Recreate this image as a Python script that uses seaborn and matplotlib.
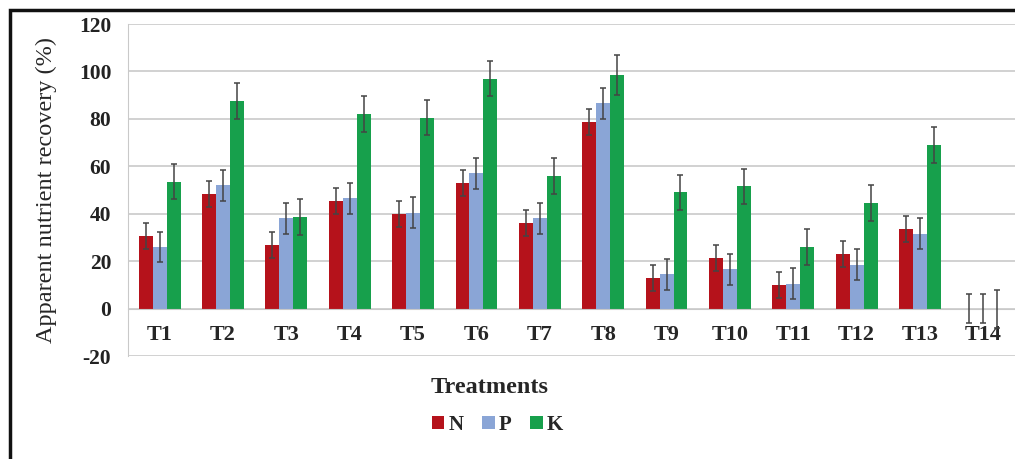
import numpy as np
import pandas as pd
import seaborn as sns
import matplotlib.pyplot as plt
from matplotlib.patches import Rectangle
from matplotlib.ticker import MultipleLocator

# values
treatments = ['T1', 'T2', 'T3', 'T4', 'T5', 'T6', 'T7', 'T8', 'T9', 'T10', 'T11', 'T12', 'T13', 'T14']
n_vals = [30.5, 48.5, 27, 45.5, 40, 53, 36, 78.5, 13, 21.5, 10, 23, 33.5, 0]
p_vals = [26, 52, 38, 46.5, 40.5, 57, 38, 86.5, 14.5, 16.5, 10.5, 18.5, 31.5, 0]
k_vals = [53.5, 87.5, 38.5, 82, 80.5, 97, 56, 98.5, 49, 51.5, 26, 44.5, 69, 0]
n_err = [5.5, 5.5, 5.5, 5.5, 5.5, 5.5, 5.5, 5.5, 5.5, 5.5, 5.5, 5.5, 5.5, 6]
p_err = [6.5, 6.5, 6.5, 6.5, 6.5, 6.5, 6.5, 6.5, 6.5, 6.5, 6.5, 6.5, 6.5, 6]
k_err = [7.5, 7.5, 7.5, 7.5, 7.5, 7.5, 7.5, 8.5, 7.5, 7.5, 7.5, 7.5, 7.5, 8]
nutrients = ['N', 'P', 'K']
colors = {'N': '#b5121b', 'P': '#8aa5d6', 'K': '#17a04c'}

# long-form table for seaborn
df = pd.DataFrame({
    'Treatment': treatments * 3,
    'Nutrient': ['N'] * 14 + ['P'] * 14 + ['K'] * 14,
    'Value': n_vals + p_vals + k_vals,
    'Err': n_err + p_err + k_err,
})

sns.set_style('white')
plt.rcParams['font.family'] = ['Liberation Serif', 'DejaVu Serif']
plt.rcParams['axes.unicode_minus'] = False

fig = plt.figure(figsize=(10.15, 4.59), dpi=100)
ax = fig.add_axes([128 / 1015, 1 - 356 / 459, 887 / 1015, 332 / 459])

sns.barplot(data=df, x='Treatment', y='Value', hue='Nutrient', hue_order=nutrients,
            palette=colors, width=0.66, errorbar=None, saturation=1, linewidth=0, ax=ax)

# error bars on top of the bars seaborn drew
for cont, nut in zip(ax.containers, nutrients):
    errs = df.loc[df['Nutrient'] == nut, 'Err'].to_numpy()
    xs = [b.get_x() + b.get_width() / 2 for b in cont]
    ys = [b.get_height() for b in cont]
    ax.errorbar(xs, ys, yerr=errs, fmt='none', ecolor='#444444', elinewidth=1.1,
                capsize=2.5, capthick=1.1, zorder=4)

ax.set_ylim(-20, 120)
ax.set_xlim(-0.5, -0.5 + 887 / 64)
ax.yaxis.set_major_locator(MultipleLocator(20))
ax.grid(axis='y', color='#c9c9c9', lw=1.2)
ax.set_axisbelow(True)

for s in ['top', 'right']:
    ax.spines[s].set_visible(False)
ax.spines['left'].set_color('#c9c9c9')
ax.spines['bottom'].set_color('#c9c9c9')
ax.spines['bottom'].set_position(('data', 0))

ax.set_xticks(np.arange(len(treatments)) + 0.5, minor=True)
ax.tick_params(axis='x', which='major', length=0, pad=12, labelsize=16)
ax.tick_params(axis='x', which='minor', length=4, direction='inout', color='#aaaaaa')
ax.tick_params(axis='y', length=7, color='#c9c9c9', pad=5, labelsize=15.5, labelcolor='#222222')
for lab in ax.get_xticklabels() + ax.get_yticklabels():
    lab.set_fontweight('bold')

ax.set_ylabel('Apparent nutrient recovery (%)', fontsize=17.5)
ax.yaxis.set_label_coords(-0.08, 0.5)
ax.set_xlabel('Treatments', fontsize=17.5, fontweight='bold')
ax.xaxis.set_label_coords(0.408, -0.062)

handles, labels = ax.get_legend_handles_labels()
ax.legend(handles, labels, loc='center', bbox_to_anchor=(0.49, 1 - 425 / 459),
          bbox_transform=fig.transFigure, ncol=3, frameon=False,
          handlelength=0.6, handleheight=0.6, handletextpad=0.2, columnspacing=0.9,
          prop={'weight': 'bold', 'size': 15})

# black frame around the chart (cut off at right and bottom in the original)
fig.patches.append(Rectangle((10 / 1015, -0.1), 1.2, 1.1 - 10 / 459, transform=fig.transFigure,
                             fill=False, ec='#111111', lw=2.5))

fig.savefig('out.png', dpi=100)
